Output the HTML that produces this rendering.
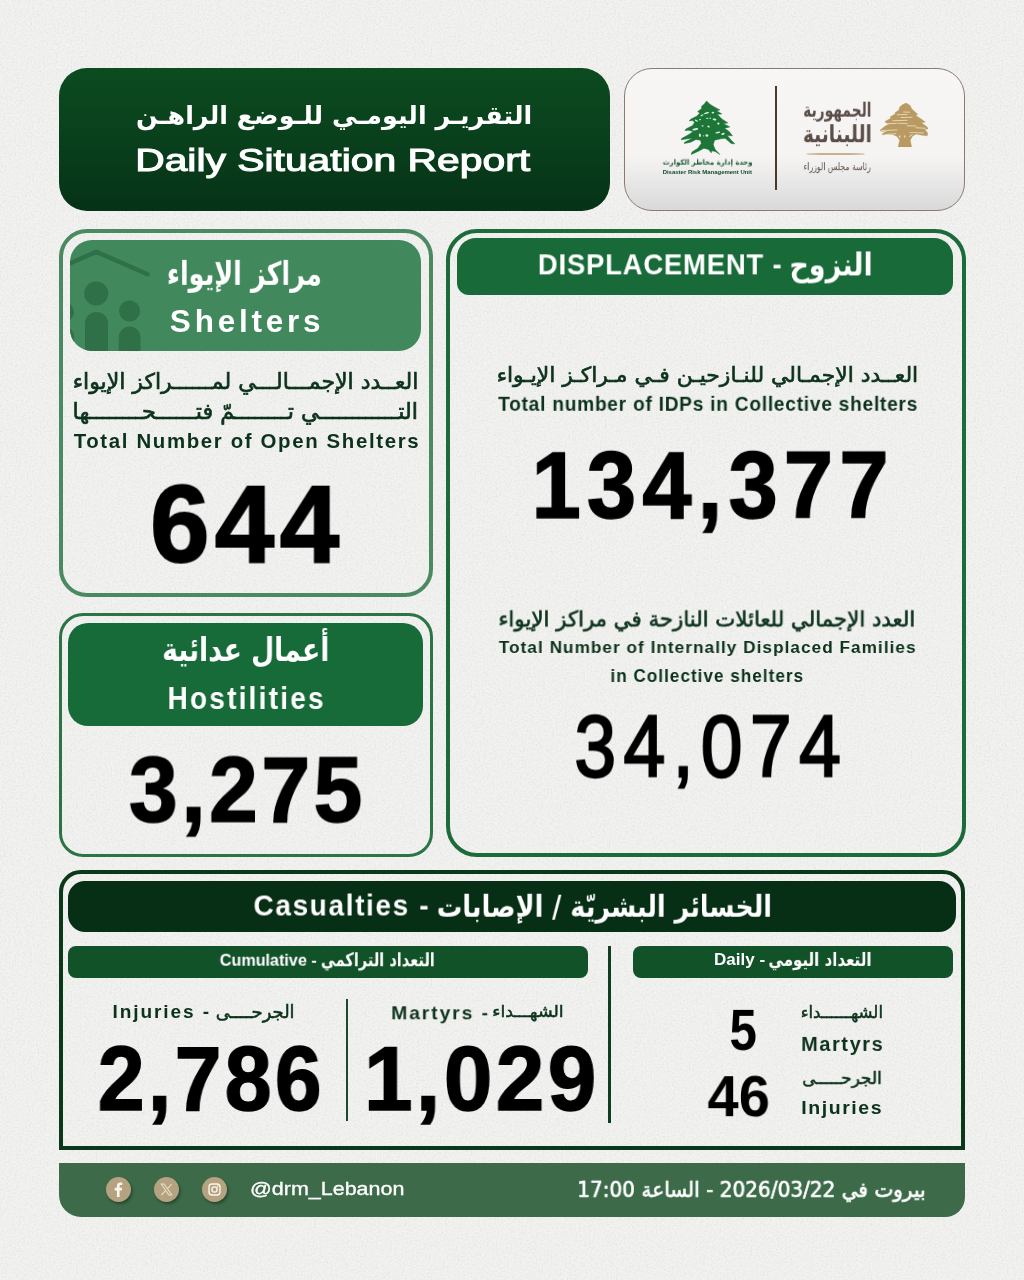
<!DOCTYPE html>
<html lang="ar">
<head>
<meta charset="utf-8">
<title>Daily Situation Report</title>
<style>
html,body{margin:0;padding:0}
body{width:1024px;height:1280px;background:#f2f2f1;overflow:hidden}
#page{position:relative;width:1024px;height:1280px;overflow:hidden;background:#f2f2f1}
#page .b{position:absolute;box-sizing:border-box}
#page .t{position:absolute;left:0;top:0;transform-origin:0 0;margin:0;padding:0;will-change:transform}
.title{left:58.5px;top:67.5px;width:551.3px;height:143.5px;border-radius:28px;background:linear-gradient(180deg,#0c4b20 0%,#09401c 50%,#063217 100%)}
.logo{left:623.75px;top:67.5px;width:341px;height:143.5px;border-radius:28px;border:1.3px solid #8c7a70;background:linear-gradient(180deg,#f7f6f5 0%,#f5f4f3 62%,#e4e4e4 85%,#d9d9d9 100%)}
.vdiv{left:775px;top:86px;width:2px;height:104px;background:#4a3a2e}
.uline{left:806px;top:152.5px;width:59px;height:2.5px;border-radius:50%;background:#c9b08f}
.card-s{left:58.5px;top:229px;width:374.9px;height:367.8px;border:4.2px solid #4b8961;border-radius:28px}
.hd-s{left:70px;top:239.5px;width:351.25px;height:111px;border-radius:22px;background:#41885c;overflow:hidden}
.card-h{left:58.5px;top:613px;width:374.9px;height:244.1px;border:3.8px solid #2b7446;border-radius:24px}
.hd-h{left:67.5px;top:623px;width:355.75px;height:102.5px;border-radius:20px;background:#176b38}
.card-d{left:446.1px;top:228.5px;width:519.6px;height:628.6px;border:4.1px solid #1d6a3a;border-radius:31px}
.hd-d{left:456.5px;top:238px;width:496.7px;height:57px;border-radius:19px 19px 12px 12px;background:#186b38}
.card-c{left:58.5px;top:869.7px;width:906.3px;height:280.6px;border:4px solid #0b381b;border-radius:22px 22px 0 0}
.hd-c{left:67.8px;top:880.5px;width:888.2px;height:51.3px;border-radius:17px;background:#072f15}
.sub1{left:67.8px;top:946.4px;width:520.1px;height:31.4px;border-radius:8px;background:#125229}
.sub2{left:632.7px;top:946.4px;width:320.5px;height:31.4px;border-radius:8px;background:#125229}
.vthick{left:608px;top:945.8px;width:3px;height:177.2px;background:#0f3d20}
.vthin{left:346.2px;top:999.4px;width:1.6px;height:122px;background:#1b4a2a}
.footer{left:58.75px;top:1163px;width:906px;height:54px;border-radius:0 0 20px 22px;background:#3d6b4a}
.ic{width:25px;height:25px;border-radius:50%;background:#b5a280;box-shadow:1.5px 2px 3px rgba(0,0,0,.35)}

</style>
</head>
<body>
<div id="page">
<svg class="b" style="left:0;top:0;width:1024px;height:1280px" width="1024" height="1280" viewBox="0 0 1024 1280">
<filter id="grain" x="0" y="0" width="100%" height="100%" color-interpolation-filters="sRGB">
<feTurbulence type="fractalNoise" baseFrequency="0.55" numOctaves="3" seed="7"/>
<feColorMatrix type="matrix" values="0 0 0 0 0  0 0 0 0 0  0 0 0 0 0  0.6 0.6 0 0 -0.5"/>
</filter>
<rect width="1024" height="1280" filter="url(#grain)" opacity="0.12"/>
</svg>
<div class="b title"></div>
<div class="b logo"></div>
<div class="b vdiv"></div>
<div class="b uline"></div>
<!-- green cedar (DRM unit logo) -->
<svg class="b" style="left:681px;top:101.3px;width:53.8px;height:53.8px" viewBox="0 0 100 100" preserveAspectRatio="none">
<path fill="#1d7538" stroke="#1d7538" stroke-width="1" stroke-linejoin="round" d="M47.5,0 L53.7,6.2 L61.1,10.5 L72.2,16.7 L66,17.9 L75.9,24 L67.3,24.7 L75.9,33.3 L87,40.7 L78.4,42 L90.7,48.1 L80.9,50.6 L89.5,56.8 L95.7,64.8 L85.8,64.2 L94.4,74 L100,79.6 L93.2,79 L82.1,69.1 L73.5,70.4 L62.3,72.8 L59.9,81.5 L63.6,90.1 L72.2,99.4 L63.6,93.8 L57.4,92.6 L56.2,96.3 L51.2,90.1 L42.6,87.7 L34,92.6 L19.1,99.4 L20.4,95 L31.5,87.7 L37.7,79 L36.4,72.8 L27.8,71.6 L17.9,76.5 L6.2,79 L6.8,76.5 L21.6,69.1 L11.7,70.4 L0,72.2 L1.2,69.8 L15.4,61.7 L22.8,56.8 L14.2,54.3 L7.4,54.9 L9.3,51.9 L21.6,45.7 L25.3,39.5 L21.6,36.4 L15.4,37 L17.9,34 L29,28.4 L35.2,22.2 L30.9,19.8 L38.9,13.6 L37.7,10.5 L43.8,4.9 Z"/>
<g fill="#d9f0dc"><ellipse cx="47.5" cy="22.5" rx="4.81" ry="1.43" transform="rotate(-15 47.5 22.5)"/><ellipse cx="59.3" cy="21.6" rx="2.47" ry="1.56" transform="rotate(0 59.3 21.6)"/><ellipse cx="38.9" cy="26.5" rx="3.25" ry="1.17" transform="rotate(-30 38.9 26.5)"/><ellipse cx="28.4" cy="36.4" rx="3.25" ry="1.43" transform="rotate(30 28.4 36.4)"/><ellipse cx="35.2" cy="34.6" rx="1.95" ry="1.17" transform="rotate(-20 35.2 34.6)"/><ellipse cx="48.8" cy="32.1" rx="2.47" ry="1.04" transform="rotate(0 48.8 32.1)"/><ellipse cx="54.3" cy="31.9" rx="1.56" ry="1.17" transform="rotate(0 54.3 31.9)"/><ellipse cx="62.3" cy="34.3" rx="3.64" ry="1.82" transform="rotate(10 62.3 34.3)"/><ellipse cx="69.5" cy="42" rx="2.21" ry="1.95" transform="rotate(0 69.5 42)"/><ellipse cx="51.2" cy="47.5" rx="2.47" ry="1.56" transform="rotate(30 51.2 47.5)"/><ellipse cx="40.1" cy="46.3" rx="1.95" ry="1.04" transform="rotate(0 40.1 46.3)"/><ellipse cx="26.5" cy="52.5" rx="5.59" ry="1.95" transform="rotate(-10 26.5 52.5)"/><ellipse cx="68.5" cy="58.6" rx="4.42" ry="1.56" transform="rotate(-10 68.5 58.6)"/><ellipse cx="78.1" cy="61.1" rx="3.25" ry="1.95" transform="rotate(-20 78.1 61.1)"/><ellipse cx="35.2" cy="63.6" rx="1.95" ry="3.25" transform="rotate(-10 35.2 63.6)"/><ellipse cx="48.1" cy="64.2" rx="2.73" ry="2.34" transform="rotate(0 48.1 64.2)"/><ellipse cx="42" cy="64.8" rx="1.04" ry="1.17" transform="rotate(0 42 64.8)"/></g>
</svg>
<!-- gold cedar (republic emblem) -->
<svg class="b" style="left:879.8px;top:102.6px;width:48.1px;height:44.4px" viewBox="0 0 100 100" preserveAspectRatio="none">
<path fill="#b89a62" stroke="#b89a62" stroke-width="1" stroke-linejoin="round" d="M54.5,0 L63,6.3 L65.6,12.7 L74.7,21.8 L78.6,26 L73.4,27.5 L86.4,36.6 L94.2,43 L86.4,44.4 L98,54.2 L100,58.5 L92.9,59.2 L99.4,68.3 L98,74 L87.7,72.5 L74.7,69.7 L66.9,75.4 L63,83.8 L65.6,99.3 L37.7,99.3 L40.9,83.8 L35.7,75.4 L26.6,71.1 L13.6,69.7 L4.5,71.8 L5.8,68.3 L16.2,63.4 L1.9,63.4 L0,61.3 L9.7,52.8 L18.8,47.2 L11.7,43.7 L10.4,41.5 L22.7,34.5 L20.8,31.7 L31.8,24.6 L31.2,21.8 L39.6,15.5 L40.9,9.2 L47.4,3.5 Z"/>
<g stroke="#f1e4c4" stroke-width="2.2" stroke-linecap="round" opacity=".8"><path d="M48.7,20.4 L61.7,20.7"/><path d="M35.7,26.3 L56.5,25.8"/><path d="M43.5,32.7 L66.9,32.1"/><path d="M26.6,39.9 L56.5,39.0"/><path d="M16.2,46.5 L35.7,45.5"/><path d="M38.3,45.8 L56.5,46.1"/><path d="M56.5,51.4 L74.7,52.0"/><path d="M74.7,55.6 L94.2,57.0"/><path d="M3.2,62.0 L35.7,60.6"/><path d="M61.7,66.2 L90.3,67.6"/><path d="M16.2,70.1 L33.1,69.4"/><path d="M61.7,75.4 L66.9,71.1"/></g>
<g fill="#f1e4c4" opacity=".8"><ellipse cx="40.9" cy="75.4" rx="1.8" ry="3"/><ellipse cx="51.3" cy="75.4" rx="1.6" ry="3"/></g>
</svg>
<div class="b card-s"></div>
<div class="b hd-s">
<svg style="position:absolute;left:0;top:0;width:120px;height:111px" viewBox="0 0 120 111">
<g fill="#2f7048">
<circle cx="26.25" cy="53.5" r="12"/>
<path d="M15,111 V83.5 a11.5,11.5 0 0 1 23,0 V111 Z"/>
<circle cx="59.5" cy="71" r="10.5"/>
<path d="M48.75,111 V97.5 a10.9,10.9 0 0 1 21.8,0 V111 Z"/>
<circle cx="-6" cy="72" r="10"/>
<path d="M-14,111 V96 a9,9 0 0 1 18,0 V111 Z"/>
</g>
<path d="M-6,26 L26.25,11.75 L77.5,34.25" fill="none" stroke="#2f7048" stroke-width="4.5" stroke-linecap="round" stroke-linejoin="round"/>
</svg>
</div>
<div class="b card-h"></div>
<div class="b hd-h"></div>
<div class="b card-d"></div>
<div class="b hd-d"></div>
<div class="b card-c"></div>
<div class="b hd-c"></div>
<div class="b sub1"></div>
<div class="b sub2"></div>
<div class="b vthick"></div>
<div class="b vthin"></div>
<div class="b footer"></div>
<div class="b ic" style="left:106.25px;top:1176.75px"><svg viewBox="0 0 25 25" width="25" height="25"><path fill="#fbf6ea" d="M13.6,20 V13.4 h2.2 l.35,-2.6 h-2.55 V9.2 c0,-.75 .2,-1.25 1.3,-1.25 h1.35 V5.65 C15.9,5.6 15.1,5.5 14.2,5.5 c-1.95,0 -3.3,1.2 -3.3,3.4 v1.9 H8.7 v2.6 h2.2 V20 Z"/></svg></div>
<div class="b ic" style="left:154.25px;top:1176.75px"><svg viewBox="0 0 25 25" width="25" height="25"><g stroke="#e9dfc8" stroke-width="1.1" fill="none"><path d="M7.3,7 h2.9 l7.5,11 h-2.9 Z"/><path d="M17.6,7 L13.3,11.9 M11.6,13.6 L7.4,18"/></g></svg></div>
<div class="b ic" style="left:202px;top:1176.75px"><svg viewBox="0 0 25 25" width="25" height="25"><g stroke="#fbf6ea" stroke-width="1.4" fill="none"><rect x="7" y="7" width="11" height="11" rx="3"/><circle cx="12.5" cy="12.5" r="2.6"/></g><circle cx="15.7" cy="9.3" r=".8" fill="#fbf6ea"/></svg></div>

<div class="t" dir="rtl" style="font-family:'DejaVu Sans', 'Liberation Sans', sans-serif;font-weight:700;font-size:25.37px;line-height:1.5;white-space:pre;color:#ffffff;transform:translate(136.02px,95.87px) scale(1.0014,1)">التقريـر اليومـي للـوضع الراهـن</div>
<div class="t" dir="ltr" style="font-family:'Liberation Sans', 'DejaVu Sans', sans-serif;font-weight:400;font-size:32.16px;line-height:1.5;white-space:pre;-webkit-text-stroke:1.093px currentColor;color:#ffffff;transform:translate(135.14px,136.38px) scale(1.2699,1)">Daily Situation Report</div>
<div class="t" dir="rtl" style="font-family:'DejaVu Sans', 'Liberation Sans', sans-serif;font-weight:700;font-size:7.26px;line-height:1.5;white-space:pre;color:#1c5a33;transform:translate(662.76px,157.57px) scale(0.9491,1)">وحدة إدارة مخاطر الكوارث</div>
<div class="t" dir="ltr" style="font-family:'Liberation Sans', 'DejaVu Sans', sans-serif;font-weight:700;font-size:5.38px;line-height:1.5;white-space:pre;color:#14482a;transform:translate(662.63px,168.01px) scale(1.1126,1)">Disaster Risk Management Unit</div>
<div class="t" dir="rtl" style="font-family:'DejaVu Sans', 'Liberation Sans', sans-serif;font-weight:700;font-size:19.7px;line-height:1.5;white-space:pre;color:#5b4d47;transform:translate(803.14px,95.64px) scale(0.7004,1)">الجمهورية</div>
<div class="t" dir="rtl" style="font-family:'DejaVu Sans', 'Liberation Sans', sans-serif;font-weight:700;font-size:23.96px;line-height:1.5;white-space:pre;color:#5b4d47;transform:translate(802.88px,117.17px) scale(0.7774,1)">اللبنانية</div>
<div class="t" dir="rtl" style="font-family:'DejaVu Sans', 'Liberation Sans', sans-serif;font-weight:400;font-size:10.25px;line-height:1.5;white-space:pre;color:#5b4d47;transform:translate(803.53px,159.07px) scale(0.7579,1)">رئاسة مجلس الوزراء</div>
<div class="t" dir="rtl" style="font-family:'DejaVu Sans', 'Liberation Sans', sans-serif;font-weight:700;font-size:32.34px;line-height:1.5;white-space:pre;color:#ffffff;transform:translate(166.90px,249.82px) scale(0.7881,1)">مراكز الإيواء</div>
<div class="t" dir="ltr" style="font-family:'Liberation Sans', 'DejaVu Sans', sans-serif;font-weight:700;font-size:30.62px;line-height:1.5;white-space:pre;letter-spacing:0.12em;color:#ffffff;transform:translate(169.85px,299.27px) scale(1.0286,1)">Shelters</div>
<div class="t" dir="rtl" style="font-family:'DejaVu Sans', 'Liberation Sans', sans-serif;font-weight:400;font-size:21.82px;line-height:1.5;white-space:pre;-webkit-text-stroke:0.655px currentColor;color:#0c321b;transform:translate(72.69px,365.80px) scale(1.0087,1)">العــدد الإجمـــالـــي لمــــــراكز الإيواء</div>
<div class="t" dir="rtl" style="font-family:'DejaVu Sans', 'Liberation Sans', sans-serif;font-weight:400;font-size:22.22px;line-height:1.5;white-space:pre;-webkit-text-stroke:0.667px currentColor;color:#0c321b;transform:translate(72.61px,394.89px) scale(1.0060,1)">التــــــــــــي تــــــــمّ فتــــــحــــــــها</div>
<div class="t" dir="ltr" style="font-family:'Liberation Sans', 'DejaVu Sans', sans-serif;font-weight:700;font-size:19.66px;line-height:1.5;white-space:pre;letter-spacing:0.08em;color:#0c321b;transform:translate(73.65px,426.73px) scale(1.0390,1)">Total Number of Open Shelters</div>
<div class="t" dir="ltr" style="font-family:'Liberation Sans', 'DejaVu Sans', sans-serif;font-weight:700;font-size:108.63px;line-height:1.5;white-space:pre;letter-spacing:0.05em;-webkit-text-stroke:1.847px currentColor;color:#000;transform:translate(150.10px,443.68px) scale(0.9840,1)">644</div>
<div class="t" dir="rtl" style="font-family:'DejaVu Sans', 'Liberation Sans', sans-serif;font-weight:700;font-size:33.33px;line-height:1.5;white-space:pre;color:#ffffff;transform:translate(162.12px,625.00px) scale(0.7985,1)">أعمال عدائية</div>
<div class="t" dir="ltr" style="font-family:'Liberation Sans', 'DejaVu Sans', sans-serif;font-weight:700;font-size:30.48px;line-height:1.5;white-space:pre;letter-spacing:0.08em;color:#ffffff;transform:translate(167.50px,675.97px) scale(0.9182,1)">Hostilities</div>
<div class="t" dir="ltr" style="font-family:'Liberation Sans', 'DejaVu Sans', sans-serif;font-weight:700;font-size:92.47px;line-height:1.5;white-space:pre;letter-spacing:0.04em;-webkit-text-stroke:1.572px currentColor;color:#000;transform:translate(128.89px,720.51px) scale(0.9482,1)">3,275</div>
<div class="t" dir="ltr" style="font-family:'Liberation Sans', 'DejaVu Sans', sans-serif;font-weight:700;font-size:29.43px;line-height:1.5;white-space:pre;letter-spacing:0.03em;color:#ffffff;transform:translate(537.82px,242.34px) scale(0.9322,1)">DISPLACEMENT -</div>
<div class="t" dir="rtl" style="font-family:'DejaVu Sans', 'Liberation Sans', sans-serif;font-weight:700;font-size:31.04px;line-height:1.5;white-space:pre;color:#ffffff;transform:translate(789.45px,241.40px) scale(0.8685,1)">النزوح</div>
<div class="t" dir="rtl" style="font-family:'DejaVu Sans', 'Liberation Sans', sans-serif;font-weight:400;font-size:20.77px;line-height:1.5;white-space:pre;-webkit-text-stroke:0.623px currentColor;color:#0c321b;transform:translate(496.64px,359.71px) scale(1.0544,1)">العــدد الإجمـالي للنـازحيـن فـي مـراكـز الإيـواء</div>
<div class="t" dir="ltr" style="font-family:'Liberation Sans', 'DejaVu Sans', sans-serif;font-weight:700;font-size:19.59px;line-height:1.5;white-space:pre;letter-spacing:0.04em;color:#0c321b;transform:translate(498.16px,389.79px) scale(0.9756,1)">Total number of IDPs in Collective shelters</div>
<div class="t" dir="ltr" style="font-family:'Liberation Sans', 'DejaVu Sans', sans-serif;font-weight:700;font-size:95.21px;line-height:1.5;white-space:pre;letter-spacing:0.07em;-webkit-text-stroke:1.619px currentColor;color:#000;transform:translate(531.61px,413.80px) scale(0.9289,1)">134,377</div>
<div class="t" dir="rtl" style="font-family:'DejaVu Sans', 'Liberation Sans', sans-serif;font-weight:400;font-size:21.53px;line-height:1.5;white-space:pre;-webkit-text-stroke:0.646px currentColor;color:#0c321b;transform:translate(498.46px,603.43px) scale(0.9888,1)">العدد الإجمالي للعائلات النازحة في مراكز الإيواء</div>
<div class="t" dir="ltr" style="font-family:'Liberation Sans', 'DejaVu Sans', sans-serif;font-weight:700;font-size:17.24px;line-height:1.5;white-space:pre;letter-spacing:0.06em;color:#0c321b;transform:translate(498.83px,634.99px) scale(0.9974,1)">Total Number of Internally Displaced Families</div>
<div class="t" dir="ltr" style="font-family:'Liberation Sans', 'DejaVu Sans', sans-serif;font-weight:700;font-size:17.52px;line-height:1.5;white-space:pre;letter-spacing:0.06em;color:#0c321b;transform:translate(610.45px,662.95px) scale(0.9764,1)">in Collective shelters</div>
<div class="t" dir="ltr" style="font-family:'Liberation Sans', 'DejaVu Sans', sans-serif;font-weight:400;font-size:87.16px;line-height:1.5;white-space:pre;letter-spacing:0.1em;-webkit-text-stroke:2.353px currentColor;color:#000;transform:translate(574.43px,681.47px) scale(0.8585,1)">34,074</div>
<div class="t" dir="ltr" style="font-family:'Liberation Sans', 'DejaVu Sans', sans-serif;font-weight:700;font-size:30.34px;line-height:1.5;white-space:pre;letter-spacing:0.06em;color:#ffffff;transform:translate(253.54px,882.47px) scale(0.9197,1)">Casualties -</div>
<div class="t" dir="rtl" style="font-family:'DejaVu Sans', 'Liberation Sans', sans-serif;font-weight:700;font-size:29.85px;line-height:1.5;white-space:pre;color:#ffffff;transform:translate(436.75px,884.69px) scale(0.8526,1)">الخسائر البشريّة / الإصابات</div>
<div class="t" dir="ltr" style="font-family:'Liberation Sans', 'DejaVu Sans', sans-serif;font-weight:700;font-size:16.28px;line-height:1.5;white-space:pre;color:#ffffff;transform:translate(219.75px,947.75px) scale(0.9932,1)">Cumulative -</div>
<div class="t" dir="rtl" style="font-family:'DejaVu Sans', 'Liberation Sans', sans-serif;font-weight:700;font-size:18.91px;line-height:1.5;white-space:pre;color:#ffffff;transform:translate(320.87px,945.19px) scale(0.7700,1)">التعداد التراكمي</div>
<div class="t" dir="ltr" style="font-family:'Liberation Sans', 'DejaVu Sans', sans-serif;font-weight:700;font-size:16.14px;line-height:1.5;white-space:pre;color:#ffffff;transform:translate(714.00px,947.33px) scale(1.0552,1)">Daily -</div>
<div class="t" dir="rtl" style="font-family:'DejaVu Sans', 'Liberation Sans', sans-serif;font-weight:700;font-size:18.71px;line-height:1.5;white-space:pre;color:#ffffff;transform:translate(768.42px,945.90px) scale(0.8047,1)">التعداد اليومي</div>
<div class="t" dir="ltr" style="font-family:'Liberation Sans', 'DejaVu Sans', sans-serif;font-weight:700;font-size:19.03px;line-height:1.5;white-space:pre;letter-spacing:0.1em;color:#0c321b;transform:translate(112.50px,997.76px) scale(1.0031,1)">Injuries -</div>
<div class="t" dir="rtl" style="font-family:'DejaVu Sans', 'Liberation Sans', sans-serif;font-weight:400;font-size:17.87px;line-height:1.5;white-space:pre;-webkit-text-stroke:0.536px currentColor;color:#0c321b;transform:translate(215.66px,998.63px) scale(1.0038,1)">الجرحــــى</div>
<div class="t" dir="ltr" style="font-family:'Liberation Sans', 'DejaVu Sans', sans-serif;font-weight:700;font-size:91.51px;line-height:1.5;white-space:pre;letter-spacing:0.04em;-webkit-text-stroke:1.556px currentColor;color:#000;transform:translate(97.76px,1009.97px) scale(0.9186,1)">2,786</div>
<div class="t" dir="ltr" style="font-family:'Liberation Sans', 'DejaVu Sans', sans-serif;font-weight:700;font-size:19.28px;line-height:1.5;white-space:pre;letter-spacing:0.1em;color:#0c321b;transform:translate(391.25px,999.29px) scale(0.9986,1)">Martyrs -</div>
<div class="t" dir="rtl" style="font-family:'DejaVu Sans', 'Liberation Sans', sans-serif;font-weight:400;font-size:16.02px;line-height:1.5;white-space:pre;-webkit-text-stroke:0.481px currentColor;color:#0c321b;transform:translate(492.28px,999.70px) scale(1.0902,1)">الشهـــداء</div>
<div class="t" dir="ltr" style="font-family:'Liberation Sans', 'DejaVu Sans', sans-serif;font-weight:700;font-size:91.51px;line-height:1.5;white-space:pre;letter-spacing:0.04em;-webkit-text-stroke:1.556px currentColor;color:#000;transform:translate(364.01px,1009.97px) scale(0.9530,1)">1,029</div>
<div class="t" dir="ltr" style="font-family:'Liberation Sans', 'DejaVu Sans', sans-serif;font-weight:700;font-size:58.0px;line-height:1.5;white-space:pre;color:#000;transform:translate(729.51px,985.84px) scale(0.8483,1)">5</div>
<div class="t" dir="ltr" style="font-family:'Liberation Sans', 'DejaVu Sans', sans-serif;font-weight:700;font-size:56.9px;line-height:1.5;white-space:pre;color:#000;transform:translate(707.46px,1054.18px) scale(0.9848,1)">46</div>
<div class="t" dir="rtl" style="font-family:'DejaVu Sans', 'Liberation Sans', sans-serif;font-weight:400;font-size:16.5px;line-height:1.5;white-space:pre;-webkit-text-stroke:0.495px currentColor;color:#0c321b;transform:translate(800.69px,1001.39px) scale(1.0046,1)">الشهــــــداء</div>
<div class="t" dir="ltr" style="font-family:'Liberation Sans', 'DejaVu Sans', sans-serif;font-weight:700;font-size:20.0px;line-height:1.5;white-space:pre;letter-spacing:0.08em;color:#0c321b;transform:translate(801.14px,1028.90px) scale(0.9962,1)">Martyrs</div>
<div class="t" dir="rtl" style="font-family:'DejaVu Sans', 'Liberation Sans', sans-serif;font-weight:400;font-size:17.2px;line-height:1.5;white-space:pre;-webkit-text-stroke:0.516px currentColor;color:#0c321b;transform:translate(802.18px,1065.92px) scale(0.9861,1)">الجرحـــــى</div>
<div class="t" dir="ltr" style="font-family:'Liberation Sans', 'DejaVu Sans', sans-serif;font-weight:700;font-size:19.03px;line-height:1.5;white-space:pre;letter-spacing:0.08em;color:#0c321b;transform:translate(801.27px,1094.16px) scale(1.0258,1)">Injuries</div>
<div class="t" dir="ltr" style="font-family:'Liberation Sans', 'DejaVu Sans', sans-serif;font-weight:400;font-size:18.37px;line-height:1.5;white-space:pre;-webkit-text-stroke:0.331px currentColor;color:#ffffff;transform:translate(249.98px,1174.89px) scale(1.1702,1)">@drm_Lebanon</div>
<div class="t" dir="rtl" style="font-family:'DejaVu Sans', 'Liberation Sans', sans-serif;font-weight:400;font-size:20.87px;line-height:1.5;white-space:pre;-webkit-text-stroke:0.626px currentColor;color:#ffffff;transform:translate(577.21px,1174.85px) scale(0.9611,1)">بيروت في 2026/03/22 - الساعة 17:00</div>
</div>
</body>
</html>
